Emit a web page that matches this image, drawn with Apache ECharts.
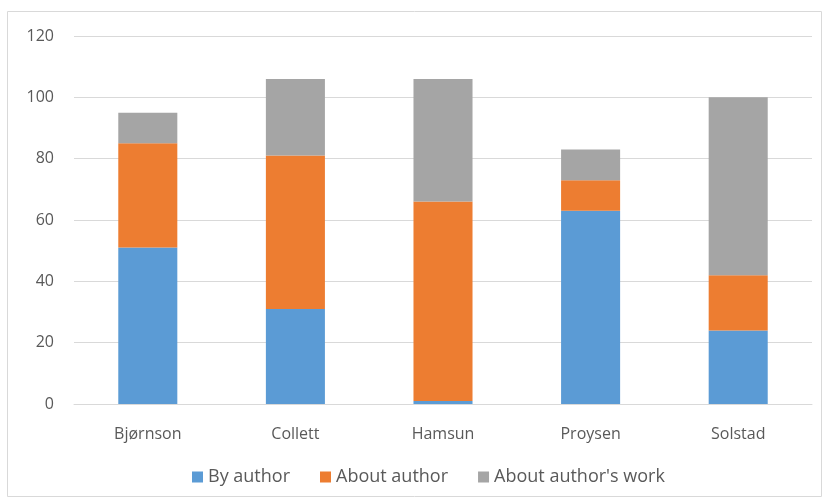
<!DOCTYPE html>
<html lang="en">
<head>
<meta charset="UTF-8">
<title>Chart</title>
<script src="https://cdn.jsdelivr.net/npm/echarts@6/dist/echarts.min.js"></script>
<style>
  * { margin: 0; padding: 0; }
  html, body { width: 100%; height: 100%; background: #fff; }
  #main { width: 827px; height: 503px; }
</style>
</head>
<body>
<div id="main"></div>
<script>
  const authors = ['Bjørnson', 'Collett', 'Hamsun', 'Proysen', 'Solstad'];
  const byAuthor = [51, 31, 1, 63, 24];
  const aboutAuthor = [34, 50, 65, 10, 18];
  const aboutWork = [10, 25, 40, 10, 58];
  const yTicks = [0, 20, 40, 60, 80, 100, 120];

  const font = 'Open Sans';
  const myChart = echarts.init(document.getElementById('main'));

  function stack(name, data, color) {
    return {
      name: name,
      type: 'bar',
      stack: 'total',
      data: data,
      barWidth: '40%',
      itemStyle: { color: color },
      emphasis: { disabled: true }
    };
  }

  const option = {
    animation: false,
    textStyle: { fontFamily: font },
    graphic: [{
      type: 'rect',
      shape: { x: 7.5, y: 11.5, width: 814, height: 485 },
      style: { fill: 'none', stroke: '#d9d9d9', lineWidth: 1 },
      silent: true
    }],
    grid: { left: 74, right: 15, top: 36, bottom: 99 },
    legend: {
      top: 463,
      left: 187,
      itemWidth: 11,
      itemHeight: 11,
      itemGap: 30,
      icon: 'rect',
      textStyle: { color: '#595959', fontSize: 18, fontFamily: font }
    },
    xAxis: {
      type: 'category',
      data: authors,
      axisLine: { lineStyle: { color: '#d9d9d9' } },
      axisTick: { show: false },
      axisLabel: { color: '#595959', fontSize: 16, margin: 22 }
    },
    yAxis: {
      type: 'value',
      min: yTicks[0],
      max: yTicks[yTicks.length - 1],
      interval: 20,
      axisLine: { show: false },
      axisTick: { show: false },
      axisLabel: { color: '#595959', fontSize: 16, margin: 20 },
      splitLine: { lineStyle: { color: '#d9d9d9' } }
    },
    series: [
      stack('By author', byAuthor, '#5b9bd5'),
      stack('About author', aboutAuthor, '#ed7d31'),
      stack("About author's work", aboutWork, '#a5a5a5')
    ]
  };

  myChart.setOption(option);
</script>
</body>
</html>
